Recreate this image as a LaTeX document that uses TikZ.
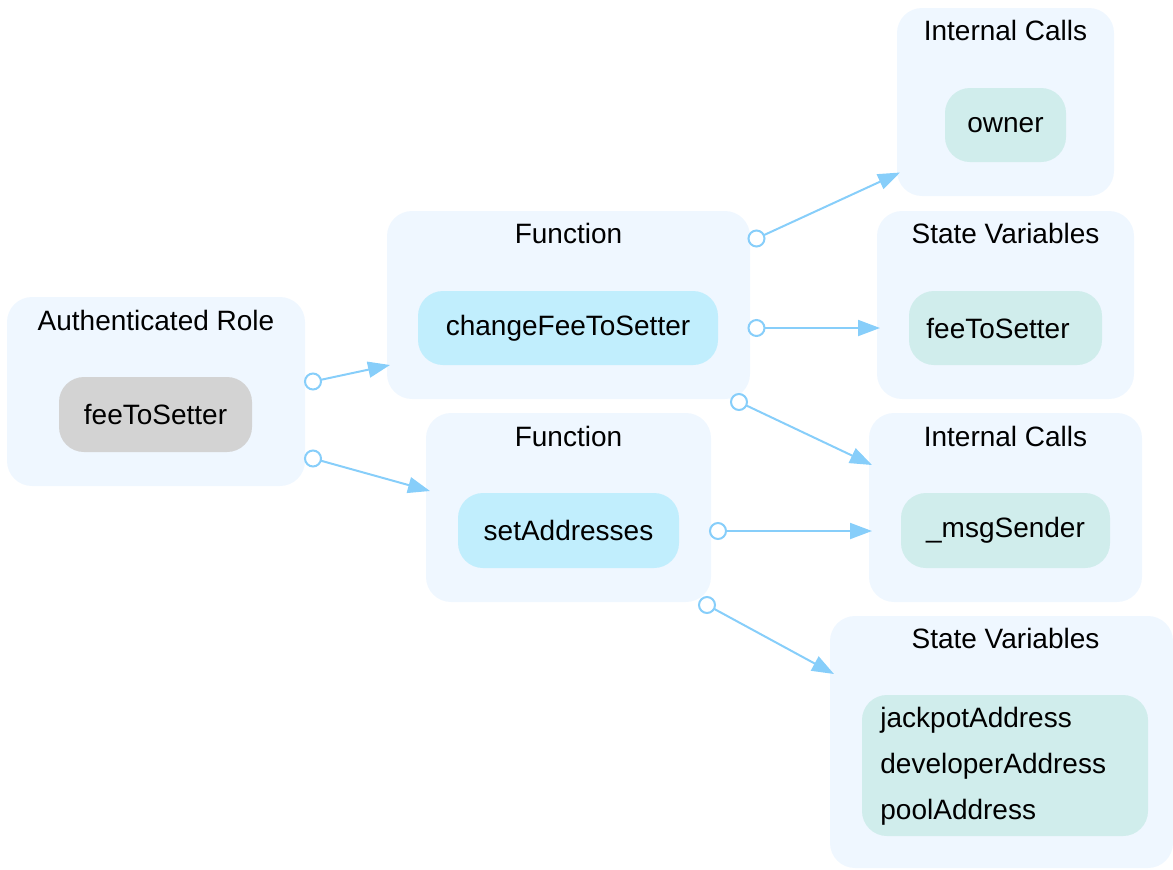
\documentclass[tikz,border=0pt]{standalone}
\usepackage{fontspec}
\setmainfont{Liberation Sans}
\usetikzlibrary{arrows.meta}
\definecolor{clusterbg}{HTML}{EFF7FF}
\definecolor{funcbg}{HTML}{C1EEFD}
\definecolor{varbg}{HTML}{D0EDEC}
\definecolor{rolebg}{HTML}{D3D3D3}
\definecolor{edgecol}{HTML}{87CEFA}
\tikzset{
  cluster/.style={rectangle, rounded corners=12.5pt, fill=clusterbg, draw=none, inner sep=0pt},
  title/.style={font=\fontsize{14}{16}\selectfont, text=black, inner sep=0pt},
  inner/.style={rectangle, rounded corners=12.5pt, draw=none, inner sep=0pt,
    font=\fontsize{14}{16}\selectfont, text=black},
  role/.style={inner, fill=rolebg},
  func/.style={inner, fill=funcbg},
  var/.style={inner, fill=varbg},
  link/.style={draw=edgecol, line width=1pt, -{Triangle[length=11pt, width=8pt]}},
  tail/.style={draw=edgecol, line width=1pt, fill=white},
}
\begin{document}
\begin{tikzpicture}[x=0.5pt, y=-0.5pt]
\useasboundingbox (0,0) rectangle (1173,869);

% clusters
\node[cluster, minimum width=149pt, minimum height=94.5pt] (c1) at (156,391.5) {};
\node[cluster, minimum width=181.5pt, minimum height=94pt] (c2) at (568.5,305) {};
\node[cluster, minimum width=142.5pt, minimum height=94.5pt] (c3) at (568.5,507.5) {};
\node[cluster, minimum width=108.5pt, minimum height=94pt] (c4) at (1005.5,102) {};
\node[cluster, minimum width=128.5pt, minimum height=94pt] (c5) at (1005.5,305) {};
\node[cluster, minimum width=136.5pt, minimum height=94.5pt] (c6) at (1005.5,507.5) {};
\node[cluster, minimum width=171.5pt, minimum height=126pt] (c7) at (1001.5,742) {};

% cluster titles
\node[title] (t1) at (156,320) {Authenticated Role};
\node[title] (t2) at (568.5,233) {Function};
\node[title] (t3) at (568.5,436) {Function};
\node[title] (t4) at (1005.5,30) {Internal Calls};
\node[title] (t5) at (1005.5,233) {State Variables};
\node[title] (t6) at (1005.5,436) {Internal Calls};
\node[title] (t7) at (1005.5,638) {State Variables};

% member nodes
\node[role, minimum width=96.5pt, minimum height=37.5pt] (n1) at (155.5,414.5) {feeToSetter};
\node[func, minimum width=150pt, minimum height=37pt] (n2) at (568,328) {changeFeeToSetter};
\node[func, minimum width=110.5pt, minimum height=37.5pt] (n3) at (568.5,530.5) {setAddresses};
\node[var, minimum width=60.5pt, minimum height=37pt] (n4) at (1005.5,125) {owner};
\node[var, minimum width=96.5pt, minimum height=37pt] (n5) at (1005.5,328) {};
\node[title, anchor=west] (n5t) at (926,328) {feeToSetter};
\node[var, minimum width=104.5pt, minimum height=37.5pt] (n6) at (1005.5,530.5) {\_msgSender};
\node[var, minimum width=143pt, minimum height=70.5pt] (n7) at (1005,765.5) {};
\node[title, anchor=west] (v1) at (880,720) {jackpotAddress};
\node[title, anchor=west] (v2) at (880,766) {developerAddress};
\node[title, anchor=west] (v3) at (880,812) {poolAddress};

% connector end points
\coordinate (e1a) at (313,381.5);   \coordinate (e1b) at (390,365);
\coordinate (e2a) at (313,458.5);   \coordinate (e2b) at (430,491);
\coordinate (e3a) at (756.5,238.5); \coordinate (e3b) at (900,172.5);
\coordinate (e4a) at (756.5,328);   \coordinate (e4b) at (880,328);
\coordinate (e5a) at (739,402);     \coordinate (e5b) at (872,465);
\coordinate (e6a) at (718,531);     \coordinate (e6b) at (872,531);
\coordinate (e7a) at (707,605);     \coordinate (e7b) at (834,674);

% connectors
\foreach \e in {1,...,7} {
  \draw[link] (e\e a) -- (e\e b);
  \draw[tail] (e\e a) circle[radius=4pt];
}
\end{tikzpicture}
\end{document}
